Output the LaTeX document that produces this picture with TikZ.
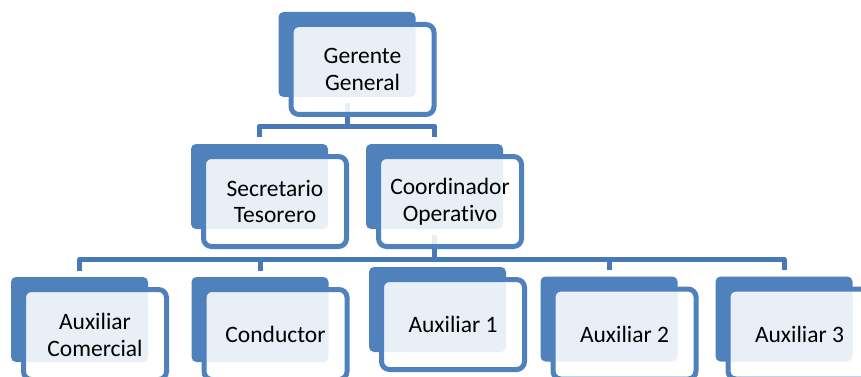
\documentclass[tikz,border=0pt]{standalone}
\usepackage{fontspec}
\setmainfont{Carlito}[Ligatures=NoCommon]
\usetikzlibrary{calc}
\definecolor{boxblue}{HTML}{4F81BD}
\definecolor{connblue}{HTML}{4878B5}
\tikzset{
  backbox/.style={rectangle, rounded corners=5pt, fill=boxblue, draw=none,
    minimum width=137pt, minimum height=85pt, inner sep=0pt},
  frontbox/.style={rectangle, rounded corners=8pt, draw=boxblue, line width=5pt,
    fill=white, fill opacity=0.88, text opacity=1,
    minimum width=143pt, minimum height=90pt, inner sep=0pt, align=center,
    font=\fontsize{23.5}{27}\selectfont},
  conn/.style={draw=connblue, line width=5pt, line join=round}
}
\begin{document}
\begin{tikzpicture}[x=1pt,y=-1pt]
\useasboundingbox (0,0) rectangle (861,377);
\fill[white] (0,0) rectangle (861,377);
\clip (0,0) rectangle (861,377);
% back shapes
\node[backbox] (ggB) at (347,54.5) {};
\node[backbox] (secB) at (259.5,186.5) {};
\node[backbox] (coordB) at (434.5,186.5) {};
\node[backbox] (auxcB) at (79.5,319.5) {};
\node[backbox] (condB) at (260,319.5) {};
\node[backbox] (aux1B) at (437.5,309.5) {};
\node[backbox] (aux2B) at (609,319) {};
\node[backbox] (aux3B) at (784,319) {};
% bus levels
\coordinate (bus2) at (0,126);
\coordinate (bus3) at (0,259.5);
% connectors
\draw[conn] ($(ggB.south)+(0,6)$) -- (ggB.south |- bus2);
\draw[conn] ($(secB.north)+(0,-7)$) |- (coordB.north |- bus2) -- ($(coordB.north)+(0,-7)$);
\draw[conn] ($(coordB.south)+(0,6)$) -- (coordB.south |- bus3);
\draw[conn] ($(auxcB.north)+(0,-6)$) |- (aux3B.north |- bus3) -- ($(aux3B.north)+(0,-6)$);
\draw[conn] ($(condB.north)+(0,-6)$) -- (condB.north |- bus3);
\draw[conn] ($(aux2B.north)+(0,-6)$) -- (aux2B.north |- bus3);
% front shapes with text
\node[frontbox] (gg) at ($(ggB)+(15.5,15)$) {Gerente\\General};
\node[frontbox] (sec) at ($(secB)+(15.5,15)$) {Secretario\\Tesorero};
\node[frontbox] (coord) at ($(coordB)+(15.5,15)$) {Coordinador\\Operativo};
\node[frontbox] (auxc) at ($(auxcB)+(15.5,15)$) {Auxiliar\\Comercial};
\node[frontbox] (cond) at ($(condB)+(15.5,15)$) {Conductor};
\node[frontbox] (aux1) at ($(aux1B)+(15.5,15)$) {Auxiliar 1};
\node[frontbox] (aux2) at ($(aux2B)+(15.5,15)$) {Auxiliar 2};
\node[frontbox] (aux3) at ($(aux3B)+(15.5,15)$) {Auxiliar 3};
\end{tikzpicture}
\end{document}
